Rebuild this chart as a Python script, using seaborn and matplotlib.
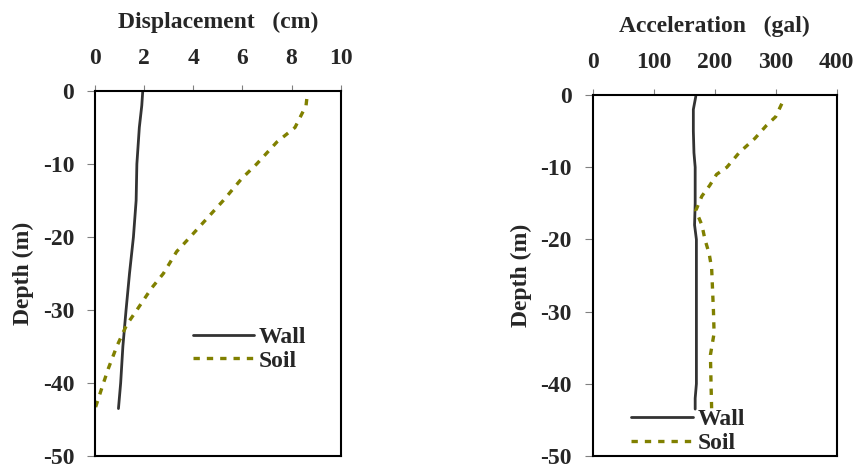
import pandas as pd
import matplotlib.pyplot as plt
import seaborn as sns

# displacement profile (cm) vs depth (m)
disp_wall_depth = [0, -2, -5, -10, -15, -20, -25, -30, -35, -40, -43.5]
disp_wall = [1.94, 1.9, 1.8, 1.7, 1.67, 1.56, 1.4, 1.26, 1.13, 1.04, 0.95]
disp_soil_depth = [-1.1, -2, -5, -7, -10, -12, -15, -17, -20, -22, -25, -27, -30, -32, -35, -38, -40, -43.5]
disp_soil = [8.62, 8.59, 8.14, 7.4, 6.58, 5.97, 5.22, 4.68, 3.87, 3.32, 2.78, 2.3, 1.7, 1.29, 0.88, 0.54, 0.34, 0.0]

# acceleration profile (gal) vs depth (m)
acc_wall_depth = [-0.2, -2, -5, -8, -10, -15, -18, -20, -25, -30, -40, -42, -43.5]
acc_wall = [169, 165, 165, 166, 168, 168, 167, 170, 170, 170, 170, 168, 168]
acc_soil_depth = [-1.2, -3, -4.2, -6, -8, -10, -11, -12.5, -14, -16, -18, -20, -22, -24, -30, -33, -36, -40, -43.5]
acc_soil = [310, 300, 285, 266, 240, 220, 203, 192, 179, 169, 179, 184, 191, 195, 198, 199, 193, 194, 195]

sns.set_style("white")
plt.rcParams['font.family'] = ['Liberation Serif', 'DejaVu Serif']
plt.rcParams['font.weight'] = 'bold'
plt.rcParams['axes.unicode_minus'] = False

wall_color = "#333333"
soil_color = "#808000"
fs = 17

fig = plt.figure(figsize=(8.57, 4.69), dpi=100)
ax1 = fig.add_axes([0.111, 0.0277, 0.2865, 0.7783])
ax2 = fig.add_axes([0.6916, 0.0277, 0.2847, 0.7697])


def draw(ax, xw, yw, xs, ys, xlabel, xmax, xticks, legend_loc):
    sns.lineplot(x=xw, y=yw, ax=ax, color=wall_color, lw=2.0, sort=False,
                 estimator=None, label="Wall")
    sns.lineplot(x=xs, y=ys, ax=ax, color=soil_color, lw=2.4, sort=False,
                 estimator=None, label="Soil", dashes=False)
    ax.lines[1].set_dashes((1.9, 2.1))
    ax.set_xlim(0, xmax)
    ax.set_ylim(-50, 0)
    ax.set_xticks(xticks)
    ax.set_yticks([0, -10, -20, -30, -40, -50])
    ax.xaxis.tick_top()
    ax.xaxis.set_label_position('top')
    ax.set_xlabel(xlabel, fontsize=fs, fontweight='bold', labelpad=15)
    ax.set_ylabel("Depth (m)", fontsize=fs, fontweight='bold', labelpad=6)
    ax.tick_params(axis='x', which='both', top=True, direction='out', length=4.5,
                   width=0.8, color='gray', labelsize=fs, pad=11)
    ax.tick_params(axis='y', which='both', left=True, direction='out', length=6,
                   width=0.8, color='gray', labelsize=fs, pad=9)
    for t in ax.get_xticklabels() + ax.get_yticklabels():
        t.set_fontweight('bold')
    for s in ax.spines.values():
        s.set_color('black')
        s.set_linewidth(1.5)
    ax.legend(loc=legend_loc, frameon=False, handlelength=2.6,
              handletextpad=0.2, labelspacing=0.1, borderaxespad=0.2,
              prop={'weight': 'bold', 'size': fs})


draw(ax1, disp_wall, disp_wall_depth, disp_soil, disp_soil_depth,
     "Displacement   (cm)", 10, [0, 2, 4, 6, 8, 10], (0.36, 0.205))
draw(ax2, acc_wall, acc_wall_depth, acc_soil, acc_soil_depth,
     "Acceleration   (gal)", 400, [0, 100, 200, 300, 400], (0.12, -0.02))

fig.savefig("out.png", dpi=100)
